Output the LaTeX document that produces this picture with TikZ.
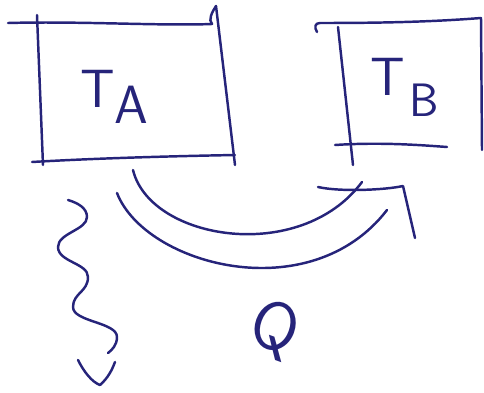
\documentclass[tikz,border=0pt]{standalone}
\usetikzlibrary{calc}
\definecolor{ink}{RGB}{38,36,122}
\begin{document}
\begin{tikzpicture}[x=0.03cm,y=-0.03cm,
  pen/.style={draw=ink,line width=2.1pt,line cap=round,line join=round},
  lbl/.style={text=ink,font=\sffamily\fontsize{46}{46}\selectfont,inner sep=0pt}]
\useasboundingbox (0,0) rectangle (484,392);
% reservoir A
\draw[pen] (8,23) .. controls (80,21) and (160,26) .. (212,24) .. controls (208,20) and (212,12) .. (216,6);
\draw[pen] (37,15) -- (43,165);
\draw[pen] (216,6) -- (235,165);
\draw[pen] (32,162) .. controls (100,158) and (180,156) .. (235,155);
\node[lbl,anchor=base west] (TA) at (80,107) {T\raisebox{-14pt}{A}};
% reservoir B
\draw[pen] (317,32) .. controls (314,27) and (315,23) .. (320,23) .. controls (380,23) and (430,22) .. (481,18);
\draw[pen] (338,27) -- (353,165);
\draw[pen] (335,145) .. controls (380,142) and (420,145) .. (447,147);
\draw[pen] (481,18) -- (482,150);
\node[lbl,anchor=base west] (TB) at (370,95) {T\kern4pt\raisebox{-18pt}{\fontsize{40}{40}\selectfont B}};
% heat flow arrow (double stroke)
\coordinate (i1) at (133,170);
\coordinate (i2) at (362,182);
\coordinate (o1) at (117,193);
\coordinate (o2) at (387,210);
\coordinate (hl) at (318,187);
\coordinate (tip) at (403,186);
\coordinate (hr) at (415,238);
\draw[pen] (i1) .. controls (150,240) and (300,265) .. (i2);
\draw[pen] (o1) .. controls (145,265) and (310,310) .. (o2);
\draw[pen] (hl) .. controls (340,192) and (385,190) .. (tip) -- (hr);
\node[lbl,font=\sffamily\fontsize{58}{58}\selectfont,rotate=-20] (Q) at (274,330) {Q};
% wavy arrow
\coordinate (w0) at (68,200);
\coordinate (w1) at (108,353);
\draw[pen] (w0) .. controls (78,203) and (87,208) .. (87,217)
  .. controls (87,230) and (58,233) .. (58,247)
  .. controls (58,262) and (88,263) .. (88,277)
  .. controls (88,292) and (73,293) .. (73,307)
  .. controls (73,322) and (117,322) .. (117,337)
  .. controls (117,345) and (112,350) .. (w1);
\coordinate (v1) at (78,360);
\coordinate (v2) at (100,385);
\coordinate (v3) at (115,362);
\draw[pen] (v1) .. controls (84,372) and (92,382) .. (v2) .. controls (108,378) and (112,370) .. (v3);
\end{tikzpicture}
\end{document}
